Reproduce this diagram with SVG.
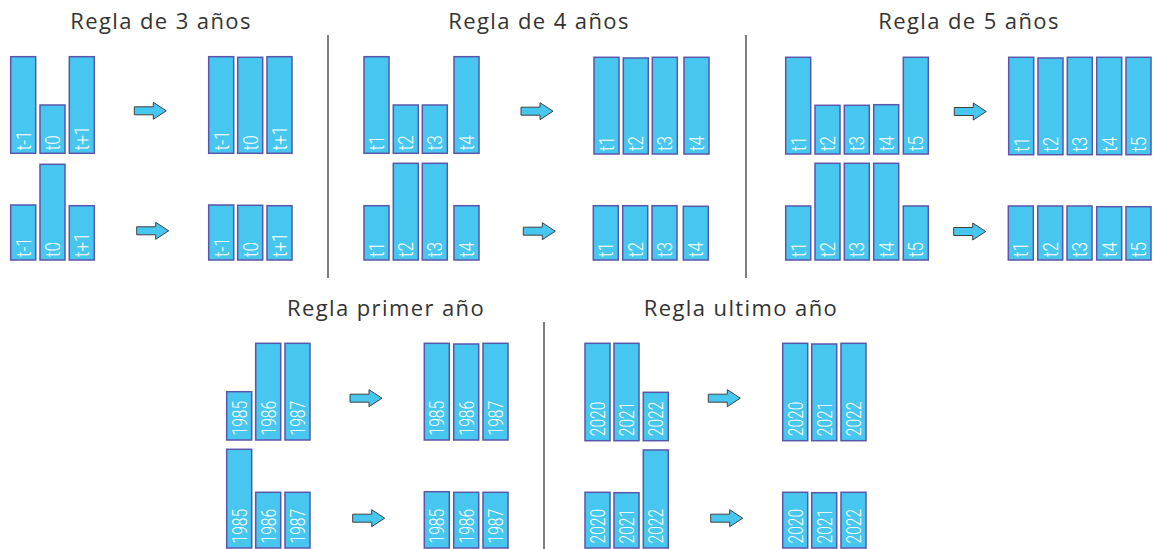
<svg xmlns="http://www.w3.org/2000/svg" xmlns:xlink="http://www.w3.org/1999/xlink" width="1153" height="549" viewBox="0 0 1153 549">
<style>
.bg{fill:#ffffff}
.bar{fill:#47C7EF;stroke:#5956AC;stroke-width:1.5}
.lbl{font-family:Roboto,"Liberation Sans",Arial,sans-serif;font-weight:300;font-size:20px;fill:#ffffff}
.title{font-family:"Open Sans","Noto Sans",sans-serif;font-size:22px;letter-spacing:1.4px;fill:#333333;text-anchor:middle}
.div{stroke:#555555;stroke-width:1.5}
.arr{fill:#47C7EF;stroke:#404040;stroke-width:1}
</style>
<defs>
<path id="arrow" class="arr" d="M0,-4 H19 V-8.5 L32,0 L19,8.5 V4 H0 Z"/>
</defs>
<rect class="bg" x="0" y="0" width="1153" height="549"/>

<g id="titles">
<text class="title" x="161" y="29">Regla de 3 años</text>
<text class="title" x="539" y="29">Regla de 4 años</text>
<text class="title" x="969" y="29">Regla de 5 años</text>
<text class="title" x="386" y="316">Regla primer año</text>
<text class="title" x="741" y="316">Regla ultimo año</text>
</g>

<g id="dividers">
<line class="div" x1="328" y1="35" x2="328" y2="278"/>
<line class="div" x1="746" y1="35" x2="746" y2="278"/>
<line class="div" x1="544" y1="322" x2="544" y2="549"/>
</g>

<!-- Regla de 3 años -->
<g id="r3-top-before">
<g id="r3a1"><rect class="bar" x="10.7" y="56.7" width="25" height="96.6"/><text class="lbl" transform="translate(30.5,150.3) rotate(-90) scale(0.85,1)">t-1</text></g>
<g id="r3a2"><rect class="bar" x="40" y="105" width="25" height="48.3"/><text class="lbl" transform="translate(59.8,150.3) rotate(-90) scale(0.85,1)">t0</text></g>
<g id="r3a3"><rect class="bar" x="69.3" y="56.7" width="25" height="96.6"/><text class="lbl" transform="translate(89.1,150.3) rotate(-90) scale(0.85,1)">t+1</text></g>
</g>
<g id="r3-top-after">
<g id="r3b1"><rect class="bar" x="208.7" y="56.7" width="25" height="96.6"/><text class="lbl" transform="translate(228.5,150.3) rotate(-90) scale(0.85,1)">t-1</text></g>
<g id="r3b2"><rect class="bar" x="237.7" y="57.3" width="25" height="96"/><text class="lbl" transform="translate(257.5,150.3) rotate(-90) scale(0.85,1)">t0</text></g>
<g id="r3b3"><rect class="bar" x="267" y="56.7" width="25" height="96.6"/><text class="lbl" transform="translate(286.8,150.3) rotate(-90) scale(0.85,1)">t+1</text></g>
</g>
<g id="r3-bot-before">
<g id="r3c1"><rect class="bar" x="10.7" y="205" width="25" height="55"/><text class="lbl" transform="translate(30.5,257) rotate(-90) scale(0.85,1)">t-1</text></g>
<g id="r3c2"><rect class="bar" x="40" y="164.3" width="25" height="95.7"/><text class="lbl" transform="translate(59.8,257) rotate(-90) scale(0.85,1)">t0</text></g>
<g id="r3c3"><rect class="bar" x="69.3" y="205.7" width="25" height="54.3"/><text class="lbl" transform="translate(89.1,257) rotate(-90) scale(0.85,1)">t+1</text></g>
</g>
<g id="r3-bot-after">
<g id="r3d1"><rect class="bar" x="208.7" y="205" width="25" height="55"/><text class="lbl" transform="translate(228.5,257) rotate(-90) scale(0.85,1)">t-1</text></g>
<g id="r3d2"><rect class="bar" x="237.7" y="205.3" width="25" height="54.7"/><text class="lbl" transform="translate(257.5,257) rotate(-90) scale(0.85,1)">t0</text></g>
<g id="r3d3"><rect class="bar" x="267" y="205.7" width="25" height="54.3"/><text class="lbl" transform="translate(286.8,257) rotate(-90) scale(0.85,1)">t+1</text></g>
</g>

<!-- Regla de 4 años -->
<g id="r4-top-before">
<g id="r4a1"><rect class="bar" x="364" y="56.7" width="25" height="96.6"/><text class="lbl" transform="translate(383.8,150.3) rotate(-90) scale(0.85,1)">t1</text></g>
<g id="r4a2"><rect class="bar" x="393.3" y="105" width="25" height="48.3"/><text class="lbl" transform="translate(413.1,150.3) rotate(-90) scale(0.85,1)">t2</text></g>
<g id="r4a3"><rect class="bar" x="422.3" y="105" width="25" height="48.3"/><text class="lbl" transform="translate(442.1,150.3) rotate(-90) scale(0.85,1)">t3</text></g>
<g id="r4a4"><rect class="bar" x="454" y="56.7" width="25" height="96.6"/><text class="lbl" transform="translate(473.8,150.3) rotate(-90) scale(0.85,1)">t4</text></g>
</g>
<g id="r4-top-after">
<g id="r4b1"><rect class="bar" x="594" y="57.3" width="25" height="96.7"/><text class="lbl" transform="translate(613.8,151) rotate(-90) scale(0.85,1)">t1</text></g>
<g id="r4b2"><rect class="bar" x="623.3" y="58" width="25" height="96"/><text class="lbl" transform="translate(643.1,151) rotate(-90) scale(0.85,1)">t2</text></g>
<g id="r4b3"><rect class="bar" x="652.3" y="57.3" width="25" height="96.7"/><text class="lbl" transform="translate(672.1,151) rotate(-90) scale(0.85,1)">t3</text></g>
<g id="r4b4"><rect class="bar" x="684" y="57.3" width="25" height="96.7"/><text class="lbl" transform="translate(703.8,151) rotate(-90) scale(0.85,1)">t4</text></g>
</g>
<g id="r4-bot-before">
<g id="r4c1"><rect class="bar" x="364" y="205.7" width="25" height="54.3"/><text class="lbl" transform="translate(383.8,257) rotate(-90) scale(0.85,1)">t1</text></g>
<g id="r4c2"><rect class="bar" x="393.3" y="163.3" width="25" height="96.7"/><text class="lbl" transform="translate(413.1,257) rotate(-90) scale(0.85,1)">t2</text></g>
<g id="r4c3"><rect class="bar" x="422.3" y="163.3" width="25" height="96.7"/><text class="lbl" transform="translate(442.1,257) rotate(-90) scale(0.85,1)">t3</text></g>
<g id="r4c4"><rect class="bar" x="454" y="205.7" width="25" height="54.3"/><text class="lbl" transform="translate(473.8,257) rotate(-90) scale(0.85,1)">t4</text></g>
</g>
<g id="r4-bot-after">
<g id="r4d1"><rect class="bar" x="593.3" y="205.7" width="25" height="54.3"/><text class="lbl" transform="translate(613.1,257) rotate(-90) scale(0.85,1)">t1</text></g>
<g id="r4d2"><rect class="bar" x="622.7" y="205.7" width="25" height="54.3"/><text class="lbl" transform="translate(642.5,257) rotate(-90) scale(0.85,1)">t2</text></g>
<g id="r4d3"><rect class="bar" x="652" y="205.7" width="25" height="54.3"/><text class="lbl" transform="translate(671.8,257) rotate(-90) scale(0.85,1)">t3</text></g>
<g id="r4d4"><rect class="bar" x="683.3" y="206.3" width="25" height="53.7"/><text class="lbl" transform="translate(703.1,257) rotate(-90) scale(0.85,1)">t4</text></g>
</g>

<!-- Regla de 5 años -->
<g id="r5-top-before">
<g id="r5a1"><rect class="bar" x="785.7" y="57.3" width="25" height="96.7"/><text class="lbl" transform="translate(805.5,151) rotate(-90) scale(0.85,1)">t1</text></g>
<g id="r5a2"><rect class="bar" x="815" y="105.3" width="25" height="48.7"/><text class="lbl" transform="translate(834.8,151) rotate(-90) scale(0.85,1)">t2</text></g>
<g id="r5a3"><rect class="bar" x="844.3" y="105.3" width="25" height="48.7"/><text class="lbl" transform="translate(864.1,151) rotate(-90) scale(0.85,1)">t3</text></g>
<g id="r5a4"><rect class="bar" x="873.7" y="104.7" width="25" height="49.3"/><text class="lbl" transform="translate(893.5,151) rotate(-90) scale(0.85,1)">t4</text></g>
<g id="r5a5"><rect class="bar" x="903.3" y="57.3" width="25" height="96.7"/><text class="lbl" transform="translate(923.1,151) rotate(-90) scale(0.85,1)">t5</text></g>
</g>
<g id="r5-top-after">
<g id="r5b1"><rect class="bar" x="1008.7" y="57.3" width="25" height="97.4"/><text class="lbl" transform="translate(1028.5,151.7) rotate(-90) scale(0.85,1)">t1</text></g>
<g id="r5b2"><rect class="bar" x="1038" y="58" width="25" height="96.7"/><text class="lbl" transform="translate(1057.8,151.7) rotate(-90) scale(0.85,1)">t2</text></g>
<g id="r5b3"><rect class="bar" x="1067.3" y="57.3" width="25" height="97.4"/><text class="lbl" transform="translate(1087.1,151.7) rotate(-90) scale(0.85,1)">t3</text></g>
<g id="r5b4"><rect class="bar" x="1096.7" y="57.3" width="25" height="97.4"/><text class="lbl" transform="translate(1116.5,151.7) rotate(-90) scale(0.85,1)">t4</text></g>
<g id="r5b5"><rect class="bar" x="1126" y="57.3" width="25" height="97.4"/><text class="lbl" transform="translate(1145.8,151.7) rotate(-90) scale(0.85,1)">t5</text></g>
</g>
<g id="r5-bot-before">
<g id="r5c1"><rect class="bar" x="785.7" y="206" width="25" height="54"/><text class="lbl" transform="translate(805.5,257) rotate(-90) scale(0.85,1)">t1</text></g>
<g id="r5c2"><rect class="bar" x="815" y="163.3" width="25" height="96.7"/><text class="lbl" transform="translate(834.8,257) rotate(-90) scale(0.85,1)">t2</text></g>
<g id="r5c3"><rect class="bar" x="844.3" y="163.3" width="25" height="96.7"/><text class="lbl" transform="translate(864.1,257) rotate(-90) scale(0.85,1)">t3</text></g>
<g id="r5c4"><rect class="bar" x="873.7" y="163.3" width="25" height="96.7"/><text class="lbl" transform="translate(893.5,257) rotate(-90) scale(0.85,1)">t4</text></g>
<g id="r5c5"><rect class="bar" x="903.3" y="206" width="25" height="54"/><text class="lbl" transform="translate(923.1,257) rotate(-90) scale(0.85,1)">t5</text></g>
</g>
<g id="r5-bot-after">
<g id="r5d1"><rect class="bar" x="1008.3" y="206" width="25" height="54"/><text class="lbl" transform="translate(1028.1,257) rotate(-90) scale(0.85,1)">t1</text></g>
<g id="r5d2"><rect class="bar" x="1037.7" y="206" width="25" height="54"/><text class="lbl" transform="translate(1057.5,257) rotate(-90) scale(0.85,1)">t2</text></g>
<g id="r5d3"><rect class="bar" x="1067" y="206" width="25" height="54"/><text class="lbl" transform="translate(1086.8,257) rotate(-90) scale(0.85,1)">t3</text></g>
<g id="r5d4"><rect class="bar" x="1096.7" y="206.7" width="25" height="53.3"/><text class="lbl" transform="translate(1116.5,257) rotate(-90) scale(0.85,1)">t4</text></g>
<g id="r5d5"><rect class="bar" x="1126" y="206.7" width="25" height="53.3"/><text class="lbl" transform="translate(1145.8,257) rotate(-90) scale(0.85,1)">t5</text></g>
</g>

<!-- Regla primer año -->
<g id="rp-top-before">
<g id="rpa1"><rect class="bar" x="226.7" y="391.7" width="25" height="48.3"/><text class="lbl" transform="translate(246.5,435.5) rotate(-90) scale(0.78,1)">1985</text></g>
<g id="rpa2"><rect class="bar" x="255.7" y="343.3" width="25" height="96.7"/><text class="lbl" transform="translate(275.5,435.5) rotate(-90) scale(0.78,1)">1986</text></g>
<g id="rpa3"><rect class="bar" x="285" y="343.3" width="25" height="96.7"/><text class="lbl" transform="translate(304.8,435.5) rotate(-90) scale(0.78,1)">1987</text></g>
</g>
<g id="rp-top-after">
<g id="rpb1"><rect class="bar" x="424.3" y="343.3" width="25" height="96.7"/><text class="lbl" transform="translate(444.1,435.5) rotate(-90) scale(0.78,1)">1985</text></g>
<g id="rpb2"><rect class="bar" x="453.7" y="344" width="25" height="96"/><text class="lbl" transform="translate(473.5,435.5) rotate(-90) scale(0.78,1)">1986</text></g>
<g id="rpb3"><rect class="bar" x="483" y="343.3" width="25" height="96.7"/><text class="lbl" transform="translate(502.8,435.5) rotate(-90) scale(0.78,1)">1987</text></g>
</g>
<g id="rp-bot-before">
<g id="rpc1"><rect class="bar" x="226.7" y="449.3" width="25" height="98.7"/><text class="lbl" transform="translate(246.5,543.5) rotate(-90) scale(0.78,1)">1985</text></g>
<g id="rpc2"><rect class="bar" x="255.7" y="492.3" width="25" height="55.7"/><text class="lbl" transform="translate(275.5,543.5) rotate(-90) scale(0.78,1)">1986</text></g>
<g id="rpc3"><rect class="bar" x="285" y="492.3" width="25" height="55.7"/><text class="lbl" transform="translate(304.8,543.5) rotate(-90) scale(0.78,1)">1987</text></g>
</g>
<g id="rp-bot-after">
<g id="rpd1"><rect class="bar" x="424.3" y="491.7" width="25" height="56.3"/><text class="lbl" transform="translate(444.1,543.5) rotate(-90) scale(0.78,1)">1985</text></g>
<g id="rpd2"><rect class="bar" x="453.7" y="492.3" width="25" height="55.7"/><text class="lbl" transform="translate(473.5,543.5) rotate(-90) scale(0.78,1)">1986</text></g>
<g id="rpd3"><rect class="bar" x="483" y="492.3" width="25" height="55.7"/><text class="lbl" transform="translate(502.8,543.5) rotate(-90) scale(0.78,1)">1987</text></g>
</g>

<!-- Regla ultimo año -->
<g id="ru-top-before">
<g id="rua1"><rect class="bar" x="585" y="343.3" width="25" height="97.4"/><text class="lbl" transform="translate(604.8,436.2) rotate(-90) scale(0.78,1)">2020</text></g>
<g id="rua2"><rect class="bar" x="614" y="343.3" width="25" height="97.4"/><text class="lbl" transform="translate(633.8,436.2) rotate(-90) scale(0.78,1)">2021</text></g>
<g id="rua3"><rect class="bar" x="643.3" y="392.3" width="25" height="48.4"/><text class="lbl" transform="translate(663.1,436.2) rotate(-90) scale(0.78,1)">2022</text></g>
</g>
<g id="ru-top-after">
<g id="rub1"><rect class="bar" x="782.7" y="343.3" width="25" height="97.4"/><text class="lbl" transform="translate(802.5,436.2) rotate(-90) scale(0.78,1)">2020</text></g>
<g id="rub2"><rect class="bar" x="811.7" y="344" width="25" height="96.7"/><text class="lbl" transform="translate(831.5,436.2) rotate(-90) scale(0.78,1)">2021</text></g>
<g id="rub3"><rect class="bar" x="841" y="343.3" width="25" height="97.4"/><text class="lbl" transform="translate(860.8,436.2) rotate(-90) scale(0.78,1)">2022</text></g>
</g>
<g id="ru-bot-before">
<g id="ruc1"><rect class="bar" x="585" y="492.3" width="25" height="55.7"/><text class="lbl" transform="translate(604.8,543.5) rotate(-90) scale(0.78,1)">2020</text></g>
<g id="ruc2"><rect class="bar" x="614" y="492.7" width="25" height="55.3"/><text class="lbl" transform="translate(633.8,543.5) rotate(-90) scale(0.78,1)">2021</text></g>
<g id="ruc3"><rect class="bar" x="643.3" y="450" width="25" height="98"/><text class="lbl" transform="translate(663.1,543.5) rotate(-90) scale(0.78,1)">2022</text></g>
</g>
<g id="ru-bot-after">
<g id="rud1"><rect class="bar" x="782.7" y="492.3" width="25" height="55.7"/><text class="lbl" transform="translate(802.5,543.5) rotate(-90) scale(0.78,1)">2020</text></g>
<g id="rud2"><rect class="bar" x="811.7" y="492.7" width="25" height="55.3"/><text class="lbl" transform="translate(831.5,543.5) rotate(-90) scale(0.78,1)">2021</text></g>
<g id="rud3"><rect class="bar" x="841" y="492.3" width="25" height="55.7"/><text class="lbl" transform="translate(860.8,543.5) rotate(-90) scale(0.78,1)">2022</text></g>
</g>

<g id="connectors">
<use xlink:href="#arrow" href="#arrow" transform="translate(134.3,110.8)"/>
<use xlink:href="#arrow" href="#arrow" transform="translate(136.7,230.8)"/>
<use xlink:href="#arrow" href="#arrow" transform="translate(521,111.2)"/>
<use xlink:href="#arrow" href="#arrow" transform="translate(523.3,231.2)"/>
<use xlink:href="#arrow" href="#arrow" transform="translate(954.3,111.5)"/>
<use xlink:href="#arrow" href="#arrow" transform="translate(953.7,231.5)"/>
<use xlink:href="#arrow" href="#arrow" transform="translate(350,398.2)"/>
<use xlink:href="#arrow" href="#arrow" transform="translate(352.7,518.2)"/>
<use xlink:href="#arrow" href="#arrow" transform="translate(708.3,398.2)"/>
<use xlink:href="#arrow" href="#arrow" transform="translate(710.7,518.2)"/>
</g>
</svg>
